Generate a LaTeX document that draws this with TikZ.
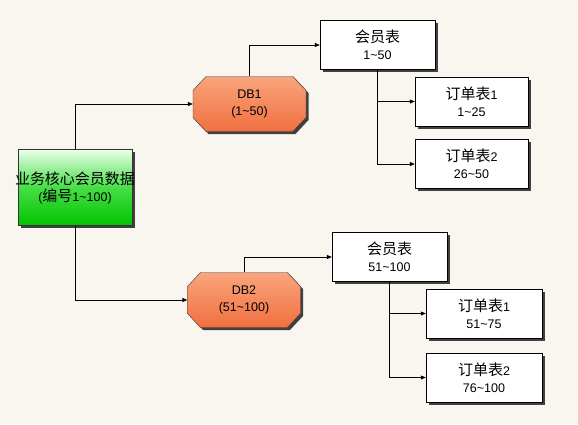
\documentclass[tikz,border=0pt]{standalone}
\usepackage{fontspec}
\setmainfont{Liberation Sans}
\newfontfamily\cjk{Noto Sans CJK SC}[Scale=1.2]
\usepackage{xcolor}
\usepackage{tikz}
\usetikzlibrary{shadows,arrows.meta}

\definecolor{bgbeige}{RGB}{249,246,239}
\definecolor{greentop}{RGB}{236,255,236}
\definecolor{greenmid}{RGB}{70,222,70}
\definecolor{greenbot}{RGB}{0,196,0}
\definecolor{orangetop}{RGB}{250,164,124}
\definecolor{orangebot}{RGB}{240,112,64}

\begin{document}
\begin{tikzpicture}[x=1pt,y=-1pt,
  every node/.style={font=\fontsize{12.5}{17}\selectfont, align=center, inner sep=0pt},
  shade/.style={general shadow={shadow xshift=2.5pt,shadow yshift=-2.5pt,fill=black!75}},
  tablebox/.style={draw=black, fill=white, shade, minimum width=115pt, minimum height=49pt},
  dbtext/.style={minimum width=113pt, minimum height=55pt},
  dbshape/.pic={
    \fill[black!75, shift={(2.5,2.5)}] (-43.5,-27.5) -- (43.5,-27.5) -- (56.5,-13.5) -- (56.5,13.5)
      -- (43.5,27.5) -- (-43.5,27.5) -- (-56.5,13.5) -- (-56.5,-13.5) -- cycle;
    \draw[black!80, top color=orangetop, bottom color=orangebot] (-43.5,-27.5) -- (43.5,-27.5)
      -- (56.5,-13.5) -- (56.5,13.5) -- (43.5,27.5) -- (-43.5,27.5) -- (-56.5,13.5) -- (-56.5,-13.5) -- cycle;
  },
  arr/.style={-{Triangle[length=5pt,width=4pt]}, black, line width=0.6pt}]

  % background
  \fill[bgbeige] (0,0) rectangle (578,424);
  \useasboundingbox (0,0) rectangle (578,424);

  % core data box
  \node (core) [draw=black!80, top color=greentop, bottom color=greenbot, middle color=greenmid,
    shade, minimum width=114pt, minimum height=76pt] at (75,187.5)
    {\makebox[0pt]{\cjk 业务核心会员数据}\\({\cjk 编号}1\textasciitilde100)};

  % the two databases
  \pic at (249.5,104) {dbshape};
  \node (db1) [dbtext] at (249.5,104) {DB1\\(1\textasciitilde50)};
  \pic at (244,300) {dbshape};
  \node (db2) [dbtext] at (244,300) {DB2\\(51\textasciitilde100)};

  % tables of DB1
  \node (mem1) [tablebox] at (377.5,45) {{\cjk 会员表}\\1\textasciitilde50};
  \node (ord11) [tablebox, minimum width=113pt] at (471.5,101.5) {{\cjk 订单表}1\\1\textasciitilde25};
  \node (ord12) [tablebox, minimum width=113pt] at (471.5,164) {{\cjk 订单表}2\\26\textasciitilde50};

  % tables of DB2
  \node (mem2) [tablebox] at (389.5,257) {{\cjk 会员表}\\51\textasciitilde100};
  \node (ord21) [tablebox, minimum width=116pt] at (484,313.5) {{\cjk 订单表}1\\51\textasciitilde75};
  \node (ord22) [tablebox, minimum width=116pt] at (484,377.5) {{\cjk 订单表}2\\76\textasciitilde100};

  % connectors
  \draw[arr] (core.north) |- (db1.west);
  \draw[arr] (core.south) |- (db2.west);
  \draw[arr] (db1.north) |- (mem1.west);
  \draw[arr] (db2.north) |- (mem2.west);
  \draw[arr] (mem1.south) |- (ord11.west);
  \draw[arr] (mem1.south) |- (ord12.west);
  \draw[arr] (mem2.south) |- (ord21.west);
  \draw[arr] (mem2.south) |- (ord22.west);
\end{tikzpicture}
\end{document}
